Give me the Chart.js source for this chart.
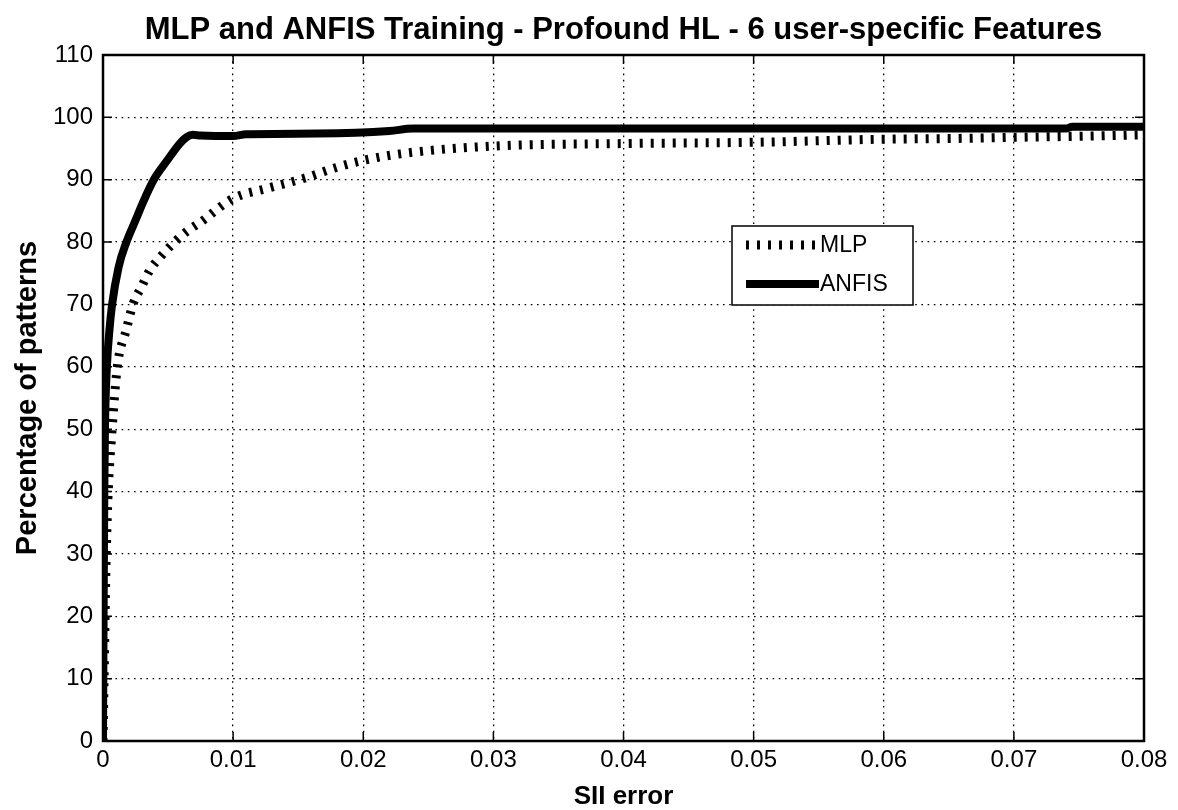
<!DOCTYPE html>
<html>
<head>
<meta charset="utf-8">
<title>MLP and ANFIS Training</title>
<script src="https://cdn.jsdelivr.net/npm/chart.js@4.4.1/dist/chart.umd.min.js"></script>
<style>
  html, body { margin: 0; padding: 0; background: #fff; }
  #wrap { width: 1178px; height: 810px; }
</style>
</head>
<body>
<div id="wrap"><canvas id="cv" width="1178" height="810"></canvas></div>
<script>
// ---- data ----
// SII error on x, percentage of patterns on y
const anfisErr = [0, 0.00005, 0.0001, 0.00015, 0.0003, 0.0005, 0.0007, 0.0012, 0.0018, 0.0025, 0.0031, 0.0039, 0.0049, 0.0059, 0.0064, 0.0069, 0.0075, 0.01, 0.011, 0.0165, 0.022, 0.0238, 0.03, 0.05, 0.074, 0.0745, 0.08];
const anfisPct = [0, 22, 40, 50, 60, 66, 70, 76, 80, 83.5, 86.5, 90, 93, 95.8, 96.8, 97.2, 97.1, 97.0, 97.3, 97.4, 97.8, 98.2, 98.2, 98.2, 98.2, 98.5, 98.5];

const mlpErr = [0, 0.0001, 0.0002, 0.0003, 0.0004, 0.0007, 0.0011, 0.0018, 0.0023, 0.003, 0.0036, 0.0044, 0.0055, 0.0065, 0.0075, 0.01, 0.0126, 0.0154, 0.018, 0.02, 0.023, 0.03, 0.04, 0.05, 0.06, 0.065, 0.07, 0.076, 0.08];
const mlpPct = [0, 12, 25, 34, 40, 50, 60, 66, 70, 73, 75.5, 77.6, 80, 81.8, 83.2, 87, 88.6, 90.2, 92, 93.1, 94.2, 95.4, 95.8, 96.0, 96.5, 96.6, 96.8, 97.0, 97.2];

const xTicks = [0, 0.01, 0.02, 0.03, 0.04, 0.05, 0.06, 0.07, 0.08];
const yTicks = [0, 10, 20, 30, 40, 50, 60, 70, 80, 90, 100, 110];

const toPoints = (xs, ys) => xs.map((v, i) => ({ x: v, y: ys[i] }));

const tickFont = { family: '"Liberation Sans", Arial, sans-serif', size: 24 };
const fam = '"Liberation Sans", Arial, sans-serif';

// box around the axes + inward tick marks (all four sides)
const frame = {
  id: 'frame',
  afterDatasetsDraw(chart) {
    const { ctx, chartArea: a, scales: { x, y } } = chart;
    ctx.save();
    ctx.strokeStyle = '#000';
    ctx.lineWidth = 1.5;
    ctx.beginPath();
    xTicks.forEach(v => {
      const px = x.getPixelForValue(v);
      ctx.moveTo(px, a.bottom); ctx.lineTo(px, a.bottom - 9);
      ctx.moveTo(px, a.top); ctx.lineTo(px, a.top + 9);
    });
    yTicks.forEach(v => {
      const py = y.getPixelForValue(v);
      ctx.moveTo(a.left, py); ctx.lineTo(a.left + 9, py);
      ctx.moveTo(a.right, py); ctx.lineTo(a.right - 9, py);
    });
    ctx.stroke();
    ctx.lineWidth = 2.5;
    ctx.strokeRect(a.left, a.top, a.right - a.left, a.bottom - a.top);
    ctx.restore();
  }
};

// legend box sitting inside the plot area
const boxLegend = {
  id: 'boxLegend',
  afterDraw(chart) {
    const { ctx, chartArea: a } = chart;
    const left = a.left + 629, top = a.top + 171, w = 181, h = 79;
    ctx.save();
    ctx.fillStyle = '#fff';
    ctx.fillRect(left, top, w, h);
    ctx.strokeStyle = '#000';
    ctx.lineWidth = 1.5;
    ctx.strokeRect(left, top, w, h);
    ctx.font = '23px ' + fam;
    ctx.textBaseline = 'middle';
    ctx.fillStyle = '#000';
    chart.data.datasets.forEach((ds, i) => {
      const yy = top + 19 + i * 39;
      ctx.save();
      ctx.lineWidth = ds.borderWidth;
      ctx.lineCap = 'butt';
      ctx.setLineDash(ds.borderDash || []);
      ctx.beginPath();
      ctx.moveTo(left + 14, yy);
      ctx.lineTo(left + 87, yy);
      ctx.stroke();
      ctx.restore();
      ctx.fillText(ds.label, left + 88, yy + 1);
    });
    ctx.restore();
  }
};

new Chart(document.getElementById('cv'), {
  type: 'scatter',
  data: {
    datasets: [
      {
        label: 'MLP',
        data: toPoints(mlpErr, mlpPct),
        showLine: true,
        borderColor: '#000',
        borderWidth: 9,
        borderDash: [3, 8],
        borderCapStyle: 'butt',
        pointRadius: 0,
        cubicInterpolationMode: 'monotone',
        order: 1
      },
      {
        label: 'ANFIS',
        data: toPoints(anfisErr, anfisPct),
        showLine: true,
        borderColor: '#000',
        borderWidth: 8,
        pointRadius: 0,
        cubicInterpolationMode: 'monotone',
        order: 0
      }
    ]
  },
  options: {
    responsive: false,
    animation: false,
    events: [],
    layout: { padding: { left: 0, right: 34, top: 0, bottom: 0 } },
    plugins: {
      legend: { display: false },
      tooltip: { enabled: false },
      title: {
        display: true,
        fullSize: false,
        text: 'MLP and ANFIS Training - Profound HL - 6 user-specific Features',
        color: '#000',
        font: { family: fam, size: 31, weight: 'bold', lineHeight: 1.2 },
        padding: { top: 12, bottom: 5.8 }
      }
    },
    scales: {
      x: {
        type: 'linear',
        min: 0,
        max: 0.08,
        afterBuildTicks: s => { s.ticks = xTicks.map(v => ({ value: v })); },
        afterFit: s => { s.height = 69; },
        ticks: {
          color: '#000',
          font: tickFont,
          padding: 5,
          maxRotation: 0,
          callback: v => (v === 0 ? '0' : v.toFixed(2))
        },
        grid: { color: '#000', lineWidth: 1.3, drawTicks: false },
        border: { display: false, dash: [1.6, 4.6] },
        title: { display: true, text: 'SII error', color: '#000', font: { family: fam, size: 26, weight: 'bold', lineHeight: 1 }, padding: { top: 0, bottom: 0 } }
      },
      y: {
        min: 0,
        max: 110,
        afterBuildTicks: s => { s.ticks = yTicks.map(v => ({ value: v })); },
        afterFit: s => { s.width = 103; },
        ticks: { color: '#000', font: tickFont, padding: 10 },
        grid: { color: '#000', lineWidth: 1.3, drawTicks: false },
        border: { display: false, dash: [1.6, 4.6] },
        title: { display: true, text: 'Percentage of patterns', color: '#000', font: { family: fam, size: 29, weight: 'bold', lineHeight: 1 }, padding: { top: 13.5, bottom: 0 } }
      }
    }
  },
  plugins: [frame, boxLegend]
});
</script>
</body>
</html>
